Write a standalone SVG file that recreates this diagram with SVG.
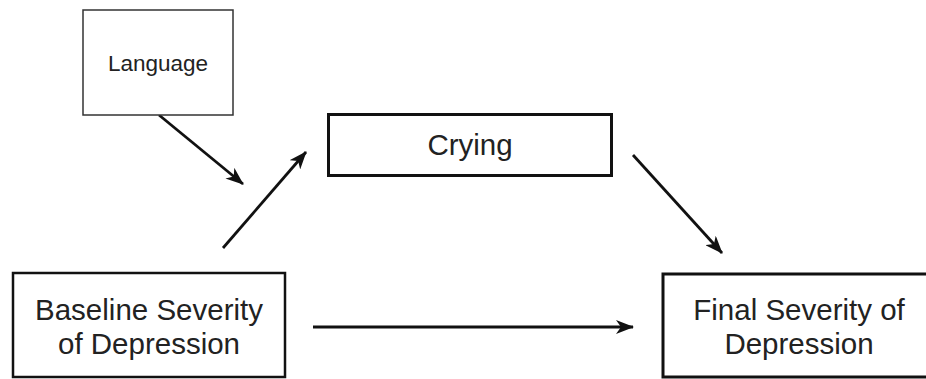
<svg xmlns="http://www.w3.org/2000/svg" width="926" height="379" viewBox="0 0 926 379">
  <style>
    .box { fill: #ffffff; stroke: #111111; }
    .lbl { font-family: "Liberation Sans", Arial, sans-serif; fill: #222222; text-anchor: middle; }
    .big { font-size: 29.5px; }
    .small { font-size: 22.5px; }
    .conn { stroke: #111111; stroke-width: 2.8; fill: none; marker-end: url(#arrow); }
  </style>
  <defs>
    <marker id="arrow" viewBox="0 0 18 14" refX="17" refY="7" markerWidth="18" markerHeight="14" markerUnits="userSpaceOnUse" orient="auto">
      <path d="M0,0 L18,7 L0,14 L5,7 z" fill="#111111"/>
    </marker>
  </defs>
  <rect width="926" height="379" fill="#ffffff"/>

  <g id="connectors">
    <line class="conn" x1="159" y1="115" x2="243" y2="184"/>
    <line class="conn" x1="223" y1="248" x2="306" y2="152"/>
    <line class="conn" x1="633" y1="155" x2="722" y2="253"/>
    <line class="conn" x1="313" y1="327" x2="633" y2="327"/>
  </g>

  <g id="language">
    <rect class="box" x="83" y="10" width="150" height="105" stroke-width="1.5" style="stroke:#333333"/>
    <text class="lbl small" x="158" y="71">Language</text>
  </g>

  <g id="crying">
    <rect class="box" x="328.5" y="114.5" width="283" height="61" stroke-width="3"/>
    <text class="lbl big" x="470" y="155">Crying</text>
  </g>

  <g id="baseline">
    <rect class="box" x="13" y="273" width="272" height="104" stroke-width="2.5"/>
    <text class="lbl big" x="149" y="320">Baseline Severity</text>
    <text class="lbl big" x="149" y="354">of Depression</text>
  </g>

  <g id="final">
    <rect class="box" x="663" y="274" width="280" height="103" stroke-width="3"/>
    <text class="lbl big" x="799" y="320">Final Severity of</text>
    <text class="lbl big" x="799" y="354">Depression</text>
  </g>
</svg>
